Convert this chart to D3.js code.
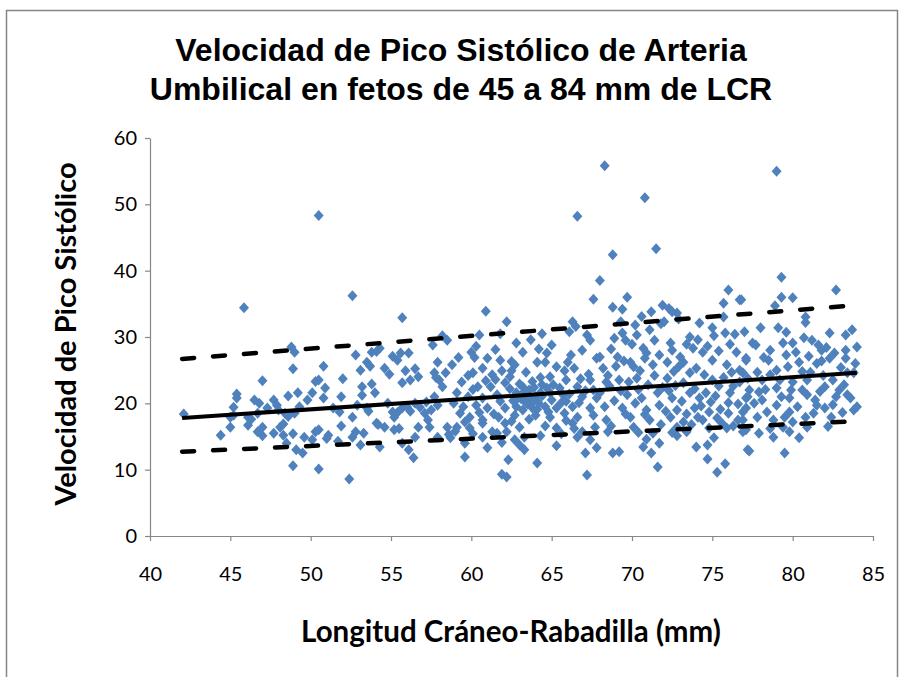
<!DOCTYPE html>
<html>
<head>
<meta charset="utf-8">
<script src="https://d3js.org/d3.v7.min.js"></script>
<style>
  body { margin: 0; background: #fff; }
  svg { display: block; }
</style>
</head>
<body>
<div id="chart"></div>
<script>
// LCR (mm) vs velocidad de pico sistolico, grouped by LCR range
const ptsA = [[42.1,18.4],[44.4,15.2],[45.0,17.9],[45.2,18.2],[45.0,16.4],[45.2,19.4],[45.4,21.4],[45.4,20.8],[45.85,34.4],[46.1,17.9],[46.3,17.6],[46.1,16.7],[46.5,20.5],[46.8,20.0],[46.7,18.5],[46.7,15.7],[47.0,16.4],[47.0,15.1],[47.0,23.4],[47.3,19.3],[47.7,20.5],[47.9,19.7],[48.0,19.0],[47.7,15.5],[48.1,16.4],[48.3,16.9],[48.4,18.5],[48.6,18.0],[48.6,21.1],[48.3,15.2],[48.5,14.0],[48.9,15.4],[49.0,18.5],[49.1,13.0],[48.9,10.6],[49.2,21.6],[48.8,28.5],[49.0,27.7],[48.9,25.2],[49.3,19.5],[49.5,12.5],[49.6,14.9],[49.8,20.5]];

const ptsB = [[50.1,21.6],[50.1,14.5],[50.3,15.7],[50.5,16.0],[50.5,23.5],[50.3,23.3],[50.5,48.3],[50.5,10.1],[50.8,25.6],[50.8,20.8],[50.9,22.3],[51.1,15.2],[51.0,14.7],[51.4,19.3],[51.7,14.3],[51.8,18.7],[51.9,21.0],[51.9,16.6],[52.0,23.7],[52.4,8.6],[52.6,36.2],[52.6,17.9],[52.6,14.9],[52.8,27.3],[52.8,15.7],[52.9,19.7],[53.1,25.0],[53.1,13.7],[53.2,22.5],[53.2,21.2],[53.3,15.5],[53.5,26.2],[53.5,19.3],[53.6,18.8],[53.7,25.6],[53.8,27.7],[53.8,22.9],[54.0,21.6],[54.1,17.0],[54.2,16.8],[54.3,28.3],[54.1,27.8],[54.3,13.4],[54.6,25.3],[54.6,16.4],[54.8,20.0],[54.9,24.4],[55.1,27.1],[55.1,18.7],[55.2,17.9],[55.2,16.0],[55.5,16.2],[55.4,26.5],[55.6,27.6],[55.7,32.9],[55.7,23.1],[55.7,19.3],[55.7,14.0],[55.4,18.6],[55.9,24.9],[56.0,19.5],[56.1,27.6],[56.1,13.0],[56.2,23.5],[56.2,18.8],[56.4,11.8],[56.5,25.2],[56.5,20.0],[56.5,14.9],[56.7,24.0],[56.7,16.4],[56.8,19.4],[57.1,18.5],[57.2,20.2],[57.3,17.5],[57.4,16.4],[57.5,19.0],[57.6,28.8],[57.7,24.6],[57.9,26.2],[57.9,19.7],[57.9,14.9],[57.7,21.0],[58.0,23.5],[57.8,23.9]];

const ptsC = [[58.2,30.2],[58.5,29.5],[58.2,22.5],[58.5,16.4],[58.6,15.3],[58.7,14.8],[58.8,25.8],[58.9,20.0],[59.1,21.6],[59.1,16.4],[59.3,18.5],[59.4,23.2],[59.5,19.5],[59.6,14.0],[59.6,11.9],[59.8,21.0],[59.9,17.9],[59.9,16.3],[60.0,27.7],[60.2,26.9],[60.1,24.6],[60.3,19.7],[60.4,22.5],[60.1,22.1],[60.5,30.3],[60.7,25.3],[60.7,20.8],[60.7,17.5],[60.7,14.9],[60.7,17.0],[60.9,33.9],[61.0,26.8],[61.0,19.3],[61.0,13.3],[61.2,22.5],[61.3,24.3],[61.5,23.6],[61.3,15.7],[61.6,21.3],[61.6,15.5],[61.7,17.9],[61.8,30.5],[61.8,26.5],[61.9,9.3],[61.8,20.3],[62.1,23.1],[62.1,19.3],[62.1,17.0],[62.2,15.7],[62.2,8.9],[62.2,32.3],[62.3,11.5],[62.4,24.0],[62.5,26.3],[62.7,25.8],[62.5,24.9],[62.7,18.2],[62.8,29.1],[62.8,21.6],[62.8,19.5],[63.0,16.4],[63.0,13.7],[63.1,20.7],[63.2,27.7],[63.2,22.5],[63.2,19.0],[63.3,13.0],[63.4,24.7],[63.5,21.0],[63.6,22.0],[63.8,19.3],[63.9,20.4],[64.0,21.0],[64.0,18.2],[64.1,26.2],[64.1,11.0],[64.2,28.2],[64.2,20.0],[64.3,21.6],[64.4,30.5],[64.4,22.8],[64.6,19.5],[64.6,16.6],[64.7,27.6],[64.6,26.2],[64.9,24.0],[64.9,21.6],[64.9,17.9],[65.0,20.5],[65.3,25.5],[65.3,19.3],[65.3,16.3],[65.3,13.6],[65.5,22.3],[65.7,21.3],[65.8,18.5],[65.9,23.5],[65.9,20.3],[66.0,26.2],[66.1,30.8],[66.3,32.3],[66.5,31.6],[66.3,19.5],[66.3,17.0],[66.4,25.3],[66.6,48.2],[66.6,22.5],[66.6,17.9],[66.6,14.9],[66.7,20.1],[66.9,28.0],[66.9,21.0],[66.9,15.7],[67.1,12.5],[67.2,30.3],[67.4,29.5],[67.2,9.2],[67.4,23.5],[67.4,19.3],[67.4,14.5],[67.6,35.7],[67.6,22.0],[67.6,18.2],[67.7,16.4],[67.8,26.8],[67.8,20.8],[67.8,13.3],[68.0,38.5],[68.0,27.0],[68.0,21.6]];

const ptsD = [[68.2,25.3],[68.3,55.8],[68.3,19.5],[68.4,17.5],[68.5,15.7],[68.5,24.2],[68.7,28.2],[68.8,34.5],[68.8,42.4],[68.8,12.5],[68.6,22.6],[69.1,27.0],[69.2,23.5],[69.2,12.7],[69.4,34.2],[69.4,30.6],[69.4,19.3],[69.5,26.4],[69.7,36.0],[69.7,21.3],[69.6,29.5],[69.9,17.9],[70.1,25.5],[70.1,16.4],[70.2,31.8],[70.3,30.3],[70.3,23.8],[70.6,20.8],[70.7,28.3],[70.7,13.4],[70.8,51.0],[70.8,26.8],[70.9,27.6],[70.9,19.0],[70.9,14.6],[71.1,31.1],[71.1,17.5],[71.2,33.8],[71.2,12.5],[71.3,25.8],[71.3,15.5],[71.4,29.5],[71.5,43.3],[71.6,21.6],[71.6,10.4],[71.7,19.7],[71.7,14.0],[71.8,32.0],[71.9,34.8],[72.0,32.3],[72.2,23.8],[72.3,34.3],[72.4,29.1],[72.4,17.9],[72.5,33.8],[72.5,28.0],[72.5,20.8],[72.6,24.8],[72.8,33.6],[72.8,19.0],[72.8,16.4],[72.8,15.1],[72.9,32.7],[72.9,25.5],[73.0,27.0],[73.2,26.2],[73.2,23.1],[73.2,17.2],[73.4,15.7],[73.6,30.0],[73.6,21.6],[73.8,28.3],[73.9,19.3],[74.0,25.3],[74.0,13.4],[74.1,29.6],[74.2,20.8],[74.4,27.7],[74.4,17.5],[74.5,24.3],[74.7,13.7],[74.7,11.6],[74.8,18.7],[74.8,16.3],[75.0,31.4],[75.0,26.5],[75.0,23.5],[75.1,30.2],[75.3,17.8],[75.3,9.6],[75.4,22.6],[75.7,33.0],[75.7,35.1],[75.8,10.9],[75.8,30.6],[75.9,25.8],[75.9,16.3],[76.0,37.1],[76.0,18.5],[76.1,21.6],[76.2,24.7],[76.5,27.7],[76.6,17.5],[76.7,35.6],[76.7,23.2],[76.7,25.0],[76.8,35.6],[76.9,24.6],[76.9,18.7],[76.9,15.7],[76.9,17.5]];

const ptsE = [[77.0,30.8],[77.1,26.5],[77.1,26.8],[77.1,20.8],[77.1,19.3],[77.1,16.0],[77.2,21.0],[77.2,23.8],[77.2,13.0],[77.3,22.0],[77.3,12.8],[77.5,29.1],[77.7,28.8],[77.8,24.7],[77.9,21.7],[77.9,15.5],[78.0,31.4],[78.1,23.5],[78.1,20.5],[78.4,18.7],[78.5,26.5],[78.6,28.0],[78.8,17.5],[78.8,14.9],[78.9,34.7],[79.0,55.0],[79.0,25.0],[79.0,22.3],[79.0,19.7],[79.1,31.4],[79.2,23.5],[79.3,36.0],[79.3,39.0],[79.4,29.1],[79.4,16.4],[79.5,17.9],[79.5,12.5],[79.6,30.7],[79.7,25.5],[79.8,20.8],[79.8,18.7],[79.8,15.7],[80.0,35.9],[80.0,29.1],[80.0,23.2],[80.0,17.2],[80.2,27.7],[80.4,26.2],[80.6,22.0],[80.8,33.0],[80.8,32.2],[80.8,17.9],[80.9,23.5],[80.9,21.3],[80.9,16.4],[81.1,24.7],[81.2,29.5],[81.4,20.5],[81.5,26.0],[81.5,19.7],[81.6,28.8],[81.8,28.0],[82.0,22.5],[82.0,19.3],[82.1,28.4],[82.3,30.6],[82.3,26.8],[82.4,17.9],[82.5,23.5],[82.5,19.8],[82.6,27.6],[82.7,37.1],[82.9,22.0],[83.2,22.8],[83.3,30.3],[83.3,28.0],[83.3,26.8],[83.4,24.6],[83.4,21.3],[83.6,20.8],[83.7,31.1],[83.8,24.6],[83.9,26.0],[84.0,28.5],[84.0,19.5],[83.8,19.0]];

// points hidden in the dense middle of the cloud
const ptsCore = [[62.9,20.8],[63.3,21.8],[63.5,19.9],[63.7,20.6],[63.9,22.4],[64.1,19.1],[63.4,20.1],[64.4,21.1],[63.0,22.9],[62.6,20.4],[64.7,22.3],[62.4,22.2],[63.8,23.3],[64.3,23.9],[65.1,22.8],[65.6,20.1],[66.1,21.4],[66.8,23.7],[67.1,21.9],[67.3,24.4],[65.8,24.9],[66.2,27.3],[65.0,28.8],[63.7,29.6],[61.5,28.1],[60.3,28.6],[59.2,26.9],[58.4,24.6],[59.8,24.2],[60.9,23.4],[61.9,24.9],[60.5,18.6],[59.6,17.2],[61.4,18.4],[62.5,17.3],[63.6,17.6],[64.8,18.7],[65.9,17.4],[66.4,16.2],[65.6,15.4],[64.3,15.1],[63.3,14.9],[62.7,14.5],[61.9,14.1],[60.1,15.4],[59.0,15.8],
  [68.9,20.4],[69.3,21.9],[69.8,23.2],[70.4,22.1],[70.2,20.0],[70.8,18.3],[71.0,22.8],[71.4,24.2],[71.9,22.4],[72.1,18.8],[72.3,21.9],[72.7,22.7],[73.1,20.3],[73.4,18.4],[73.6,24.6],[73.9,22.2],[74.3,19.6],[74.6,21.6],[74.9,20.2],[75.2,21.1],[75.5,19.1],[75.7,23.9],[76.0,20.1],[76.3,22.6],[76.6,19.9],[70.5,24.9],[69.9,26.2],[69.0,25.6],[68.4,23.2],[69.6,18.4],[68.7,16.6],[70.4,15.6],[71.8,16.8],[72.5,15.6],[73.7,16.8],[74.1,17.9],[75.1,14.8],[75.6,17.0],[76.3,16.6],[71.7,27.3],[72.2,26.2],[73.4,28.9],[74.7,28.6],[75.4,27.9],[76.1,28.9],[70.0,28.9],[68.9,29.8],[69.3,32.3],[70.6,33.1],[74.2,32.1],[76.4,30.4],
  [77.6,20.0],[78.3,22.1],[78.6,24.3],[79.3,21.0],[79.9,22.0],[80.3,19.5],[80.6,24.8],[81.0,27.1],[81.7,21.8],[81.9,24.2],[82.7,21.0],[83.1,18.6],[78.2,26.9],[79.6,27.3],[80.7,29.9],[81.3,18.5],[82.2,16.5],[78.6,16.2],[77.8,17.9],[80.4,14.8],[81.8,26.4],[83.0,25.4]];

// trend line and the two dashed limits (end points)
const fitLine = [[42, 17.8], [84, 24.6]];
const upperLine = [[42, 26.7], [84, 34.8]];
const lowerLine = [[42, 12.7], [84, 17.3]];

const xTicks = [40, 45, 50, 55, 60, 65, 70, 75, 80, 85];
const yTicks = [0, 10, 20, 30, 40, 50, 60];

const titleLines = ['Velocidad de Pico Sistólico de Arteria', 'Umbilical en fetos de 45 a 84 mm de LCR'];
const xTitle = 'Longitud Cráneo-Rabadilla (mm)';
const yTitle = 'Velocidad de Pico Sistólico';

const W = 904, H = 677;
const axisGrey = '#868686';
const markerBlue = '#4F81BD';

const svg = d3.select('#chart').append('svg')
    .attr('width', W)
    .attr('height', H);

svg.append('rect')
    .attr('width', W).attr('height', H)
    .attr('fill', '#fff');

// outer chart frame
svg.append('rect')
    .attr('x', 6.5).attr('y', 10.5)
    .attr('width', 891).attr('height', 720)
    .attr('fill', 'none')
    .attr('stroke', axisGrey)
    .attr('stroke-width', 1.5);

let x = d3.scaleLinear().domain([40, 85]).range([150, 873]);
let y = d3.scaleLinear().domain([0, 60]).range([536, 138]);

// title (condensed bold, like the original)
svg.append('g').selectAll('text')
    .data(titleLines)
    .enter().append('text')
    .attr('x', 461)
    .attr('y', function(d, i) { return 61 + i * 39; })
    .attr('text-anchor', 'middle')
    .style('font-family', '"Liberation Sans Narrow", "Arial Narrow", sans-serif')
    .style('font-weight', 'bold')
    .style('font-size', '32px')
    .text(function(d) { return d; });

// axes
let yAxis = svg.append('g')
    .attr('transform', 'translate(' + x(40) + ',0)')
    .call(d3.axisLeft(y).tickValues(yTicks).tickSize(5).tickPadding(8).tickSizeOuter(0));

let xAxis = svg.append('g')
    .attr('transform', 'translate(0,' + y(0) + ')')
    .call(d3.axisBottom(x).tickValues(xTicks).tickSize(5).tickPadding(26).tickSizeOuter(0));

[xAxis, yAxis].forEach(function(a) {
    a.select('.domain').attr('stroke', axisGrey).attr('stroke-width', 1.2);
    a.selectAll('.tick line').attr('stroke', axisGrey).attr('stroke-width', 1.2);
    a.selectAll('.tick text')
        .attr('fill', '#000')
        .style('font-family', 'Lato, "Open Sans", sans-serif')
        .style('font-size', '20px');
});

// axis titles
svg.append('text')
    .attr('x', 511)
    .attr('y', 642)
    .attr('text-anchor', 'middle')
    .style('font-family', 'Lato, "Open Sans", sans-serif')
    .style('font-weight', 'bold')
    .style('font-size', '29.5px')
    .text(xTitle);

svg.append('text')
    .attr('transform', 'translate(76,334) rotate(-90)')
    .attr('text-anchor', 'middle')
    .style('font-family', 'Lato, "Open Sans", sans-serif')
    .style('font-weight', 'bold')
    .style('font-size', '29px')
    .text(yTitle);

// scatter
let allPts = ptsA.concat(ptsB, ptsC, ptsD, ptsE, ptsCore);

svg.append('g').selectAll('.pt')
    .data(allPts)
    .enter().append('path')
    .classed('pt', true)
    .attr('d', 'M0,-5.5L5,0L0,5.5L-5,0Z')
    .attr('transform', function(d) { return 'translate(' + x(d[0]) + ',' + y(d[1]) + ')'; })
    .attr('fill', markerBlue);

// trend lines
let line = d3.line()
    .x(function(d) { return x(d[0]); })
    .y(function(d) { return y(d[1]); });

svg.append('path')
    .attr('d', line(fitLine))
    .attr('fill', 'none')
    .attr('stroke', '#000')
    .attr('stroke-width', 4);

[upperLine, lowerLine].forEach(function(l) {
    svg.append('path')
        .attr('d', line(l))
        .attr('fill', 'none')
        .attr('stroke', '#000')
        .attr('stroke-width', 4.5)
        .attr('stroke-linecap', 'round')
        .attr('stroke-dasharray', '12,19');
});
</script>
</body>
</html>
